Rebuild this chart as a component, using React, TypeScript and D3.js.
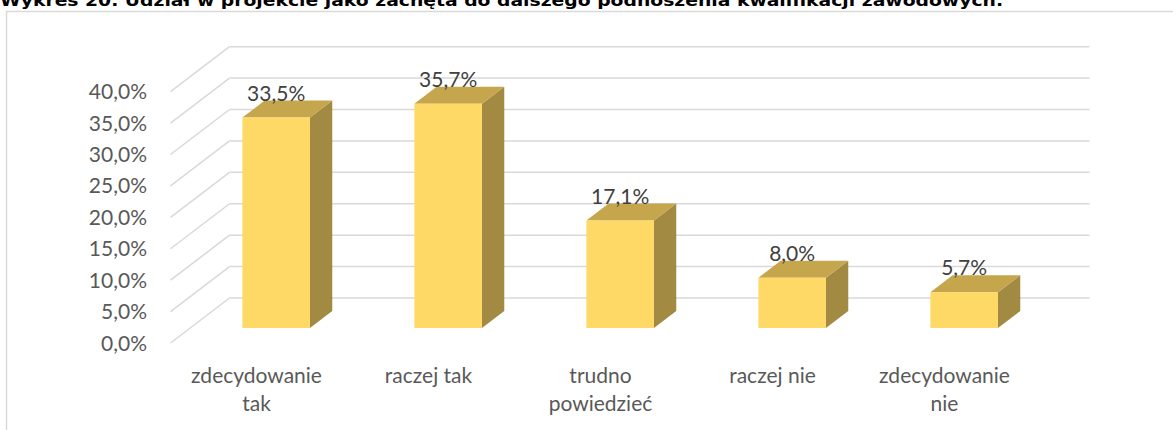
import React from "react";
import * as d3 from "d3";

const categories: string[][] = [
  ["zdecydowanie", "tak"],
  ["raczej tak"],
  ["trudno", "powiedzieć"],
  ["raczej nie"],
  ["zdecydowanie", "nie"],
];
const values: number[] = [33.5, 35.7, 17.1, 8.0, 5.7];
const yTicks: number[] = [0, 5, 10, 15, 20, 25, 30, 35, 40];
const title =
  "Wykres 20. Udział w projekcie jako zachęta do dalszego podnoszenia kwalifikacji zawodowych.";

const W = 1173;
const H = 430;

export default function App() {
  const floorX0 = 170.5;
  const floorX1 = 1030.5;
  const wallDx = 59;
  const wallDy = -45;
  const yFront = d3.scaleLinear().domain([0, 40]).range([343, 91.7]);
  const x = d3
    .scaleBand<number>()
    .domain(values.map((_, i) => i))
    .range([floorX0, floorX1])
    .paddingInner(0.607)
    .paddingOuter(0.3035);
  const step = x.step();
  const planeF = 15 / 45;
  const planeDx = wallDx * planeF;
  const planeDy = wallDy * planeF;
  const barDx = 22.3;
  const barDy = -17;

  const fmt = (v: number) => v.toFixed(1).replace(".", ",") + "%";

  const gridColor = "#d9d9d9";
  const font = "Lato, 'Open Sans', sans-serif";
  const fs = 21;

  return (
    <svg
      width={W}
      height={H}
      style={{ position: "absolute", left: 0, top: 0, background: "#fff" }}
    >
      <rect x={6.5} y={11.5} width={1300} height={600} fill="#fff" stroke="#d9d9d9" strokeWidth={1.5} />
      <text
        x={0}
        y={6}
        fontFamily="'DejaVu Sans', Verdana, sans-serif"
        fontWeight="bold"
        fontSize={16}
        fill="#000"
        textLength={1003}
        lengthAdjust="spacingAndGlyphs"
      >
        {title}
      </text>

      {yTicks.map((t) => {
        const yf = yFront(t);
        return (
          <g key={"g" + t}>
            <line
              x1={floorX0}
              y1={yf}
              x2={floorX0 + wallDx}
              y2={yf + wallDy}
              stroke={gridColor}
              strokeWidth={1.5}
            />
            <line
              x1={floorX0 + wallDx}
              y1={yf + wallDy}
              x2={floorX1 + wallDx}
              y2={yf + wallDy}
              stroke={gridColor}
              strokeWidth={1.5}
            />
          </g>
        );
      })}

      {yTicks.map((t) => (
        <text
          key={"t" + t}
          x={147}
          y={yFront(t)}
          dy="0.36em"
          textAnchor="end"
          fontFamily={font}
          fontSize={fs}
          fill="#595959"
        >
          {fmt(t)}
        </text>
      ))}

      {values.map((v, i) => {
        const x0 = (x(i) as number) + planeDx;
        const x1 = x0 + x.bandwidth();
        const yTop = yFront(v) + planeDy;
        const yBot = yFront(0) + planeDy;
        const cx = (x0 + x1) / 2;
        return (
          <g key={"b" + i}>
            <polygon
              points={`${x1},${yTop} ${x1 + barDx},${yTop + barDy} ${x1 + barDx},${yBot + barDy} ${x1},${yBot}`}
              fill="#A38A42"
            />
            <polygon
              points={`${x0},${yTop} ${x1},${yTop} ${x1 + barDx},${yTop + barDy} ${x0 + barDx},${yTop + barDy}`}
              fill="#C6A64C"
            />
            <rect x={x0} y={yTop} width={x1 - x0} height={yBot - yTop} fill="#FFD966" />
            <text
              x={cx}
              y={yTop + barDy}
              textAnchor="middle"
              fontFamily={font}
              fontSize={fs}
              fill="#404040"
            >
              {fmt(v)}
            </text>
          </g>
        );
      })}

      {categories.map((lines, i) => {
        const cx = floorX0 + step * (i + 0.5);
        return (
          <text
            key={"c" + i}
            textAnchor="middle"
            fontFamily={font}
            fontSize={fs}
            fill="#595959"
          >
            {lines.map((ln, j) => (
              <tspan key={j} x={cx} y={383 + j * 28}>
                {ln}
              </tspan>
            ))}
          </text>
        );
      })}
    </svg>
  );
}
